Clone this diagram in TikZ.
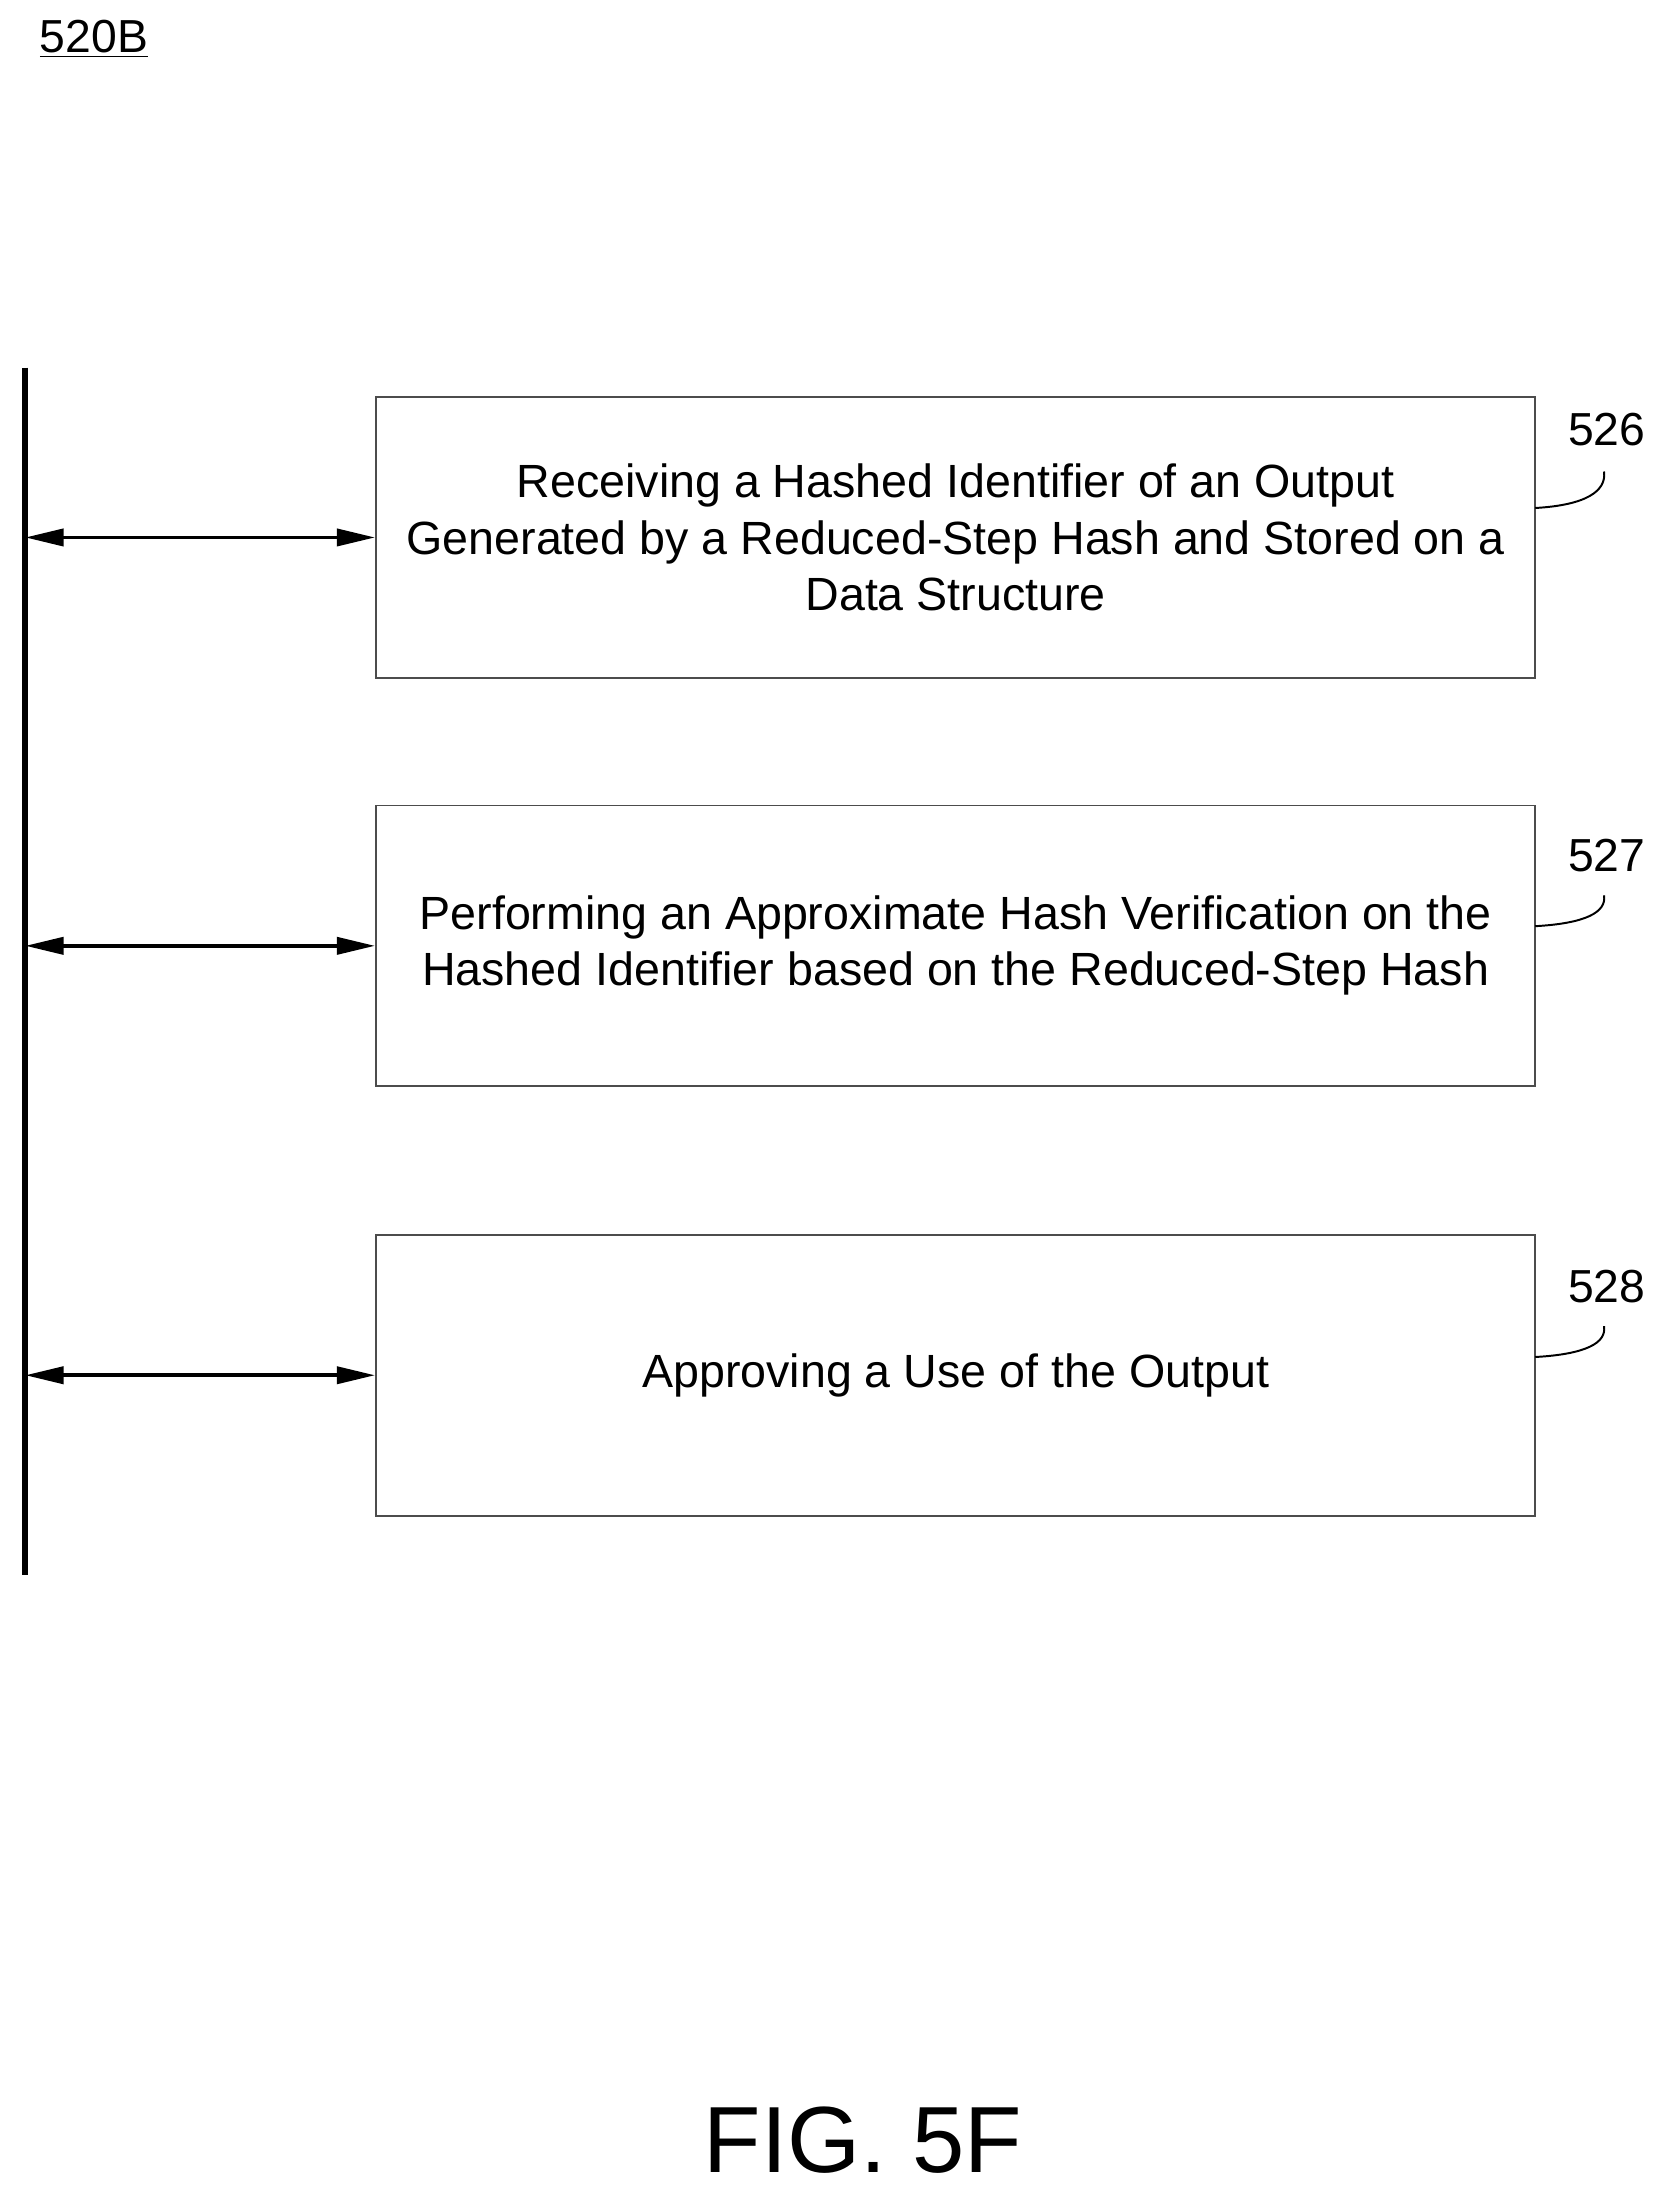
\documentclass[tikz,border=0pt]{standalone}
\usepackage{fontspec}
\setmainfont{Liberation Sans}
\usetikzlibrary{arrows.meta,positioning}
\tikzset{>={Stealth[inset=0pt,angle=25:14pt]}}
\begin{document}
\begin{tikzpicture}[x=0.5pt,y=-0.5pt,
  procbox/.style={draw=black!70,line width=0.7pt,minimum width=413pt,minimum height=100pt,
    align=center,font=\fontsize{16.6}{20}\selectfont,inner sep=0pt},
  num/.style={font=\fontsize{16.5}{18}\selectfont},
  link/.style={<->,line width=1.4pt}]
\useasboundingbox (0,0) rectangle (1190,1572);

%label
\node[font=\fontsize{16.5}{18}\selectfont] (fig) at (67,28) {\underline{520B}};

%bus
\coordinate (top) at (18,262);
\coordinate (bot) at (18,1122);
\draw[line width=2.2pt] (top) -- (bot);

%steps
\node[procbox] (s526) at (681,383) {Receiving a Hashed Identifier of an Output\\Generated by a Reduced-Step Hash and Stored on a\\Data Structure};
\node[procbox] (s527) at (681,674) {Performing an Approximate Hash Verification on the\\Hashed Identifier based on the Reduced-Step Hash};
\node[procbox] (s528) at (681,980) {Approving a Use of the Output};

%arrows
\foreach \s in {526,527,528}{
  \coordinate (b\s) at (top |- s\s.west);
  \draw[link] (b\s) -- (s\s.west);
}

%reference numbers
\node[num] (n526) at (1145,306) {526};
\node[num] (n527) at (1145,610) {527};
\node[num] (n528) at (1145,917) {528};
\draw[line width=0.7pt] (1094,362) .. controls (1130,360) and (1145,350) .. (1143,336);
\draw[line width=0.7pt] (1094,660) .. controls (1130,658) and (1145,650) .. (1143,638);
\draw[line width=0.7pt] (1094,967) .. controls (1130,965) and (1145,957) .. (1143,945);

\node[font=\fontsize{33.5}{36}\selectfont] (title) at (615,1525) {FIG. 5F};
\end{tikzpicture}
\end{document}
